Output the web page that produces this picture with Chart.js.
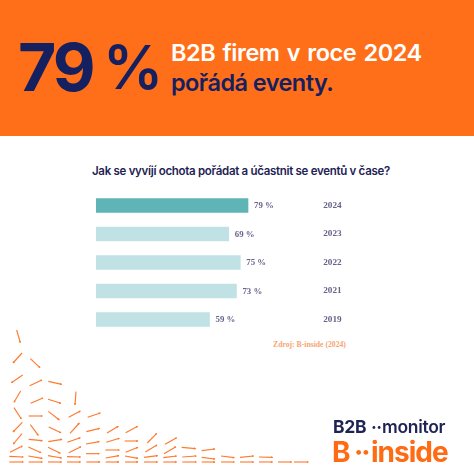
<!DOCTYPE html>
<html lang="cs"><head><meta charset="utf-8">
<style>
html,body{margin:0;padding:0;background:#fff;width:474px;height:474px;overflow:hidden}
#wrap{position:relative;width:474px;height:474px;overflow:hidden;font-family:Inter,sans-serif}
#banner{position:absolute;left:0;top:0;width:474px;height:136px;background:#FF6F1A}
canvas{position:absolute;left:0;top:0}
.t{position:absolute;white-space:pre;line-height:1}
svg{position:absolute;left:0;top:320px}
</style></head><body>
<div id="wrap">
<div id="banner"></div>
<div class="t" style="left:18px;top:34px;font-size:66px;font-weight:700;color:#14205F;letter-spacing:-3px">79</div>
<div class="t" style="left:103px;top:37px;font-size:60px;font-weight:600;color:#14205F;letter-spacing:-2px">%</div>
<div class="t" style="left:171px;top:41px;font-size:23.5px;font-weight:600;color:#fff;letter-spacing:-.45px;word-spacing:1.75px">B2B firem v roce 2024</div>
<div class="t" style="left:171px;top:71px;font-size:23.5px;font-weight:600;color:#14205F;letter-spacing:-.55px">pořádá eventy.</div>
<div class="t" style="left:92px;top:165.5px;font-size:11.5px;font-weight:600;color:#1E2354;letter-spacing:-.3px">Jak se vyvíjí ochota pořádat a účastnit se eventů v čase?</div>
<div class="t" style="left:273px;top:341px;font-family:'Liberation Serif',serif;font-size:7.7px;font-weight:700;color:#F7A470">Zdroj: B-inside (2024)</div>
<svg id="deco" width="320" height="154" viewBox="0 0 960 462">
<defs><marker id="head" markerUnits="userSpaceOnUse" markerWidth="7" markerHeight="7" refX="5.5" refY="3.5" orient="auto"><path d="M0 0L7 3.5L0 7z" fill="#FF7A2E"/></marker></defs>
</svg>
<canvas id="c" width="474" height="474"></canvas>
<div class="t" style="left:333px;top:418px;font-size:17.5px;font-weight:700;color:#1E2354;letter-spacing:-.3px">B2B</div>
<div class="t" style="left:371px;top:418.5px;font-size:17.5px;font-weight:700;color:#1E2354;letter-spacing:-.6px">··</div>
<div class="t" style="left:382px;top:418px;font-size:17.5px;font-weight:600;color:#1E2354;letter-spacing:-.3px">monitor</div>
<div class="t" style="left:332px;top:438px;font-size:28px;font-weight:700;color:#FF6A13">B</div>
<div class="t" style="left:354px;top:438px;font-size:28px;font-weight:700;color:#FF6A13;letter-spacing:-2px">··</div>
<div class="t" style="left:371px;top:438px;font-size:28px;font-weight:700;color:#FF6A13;letter-spacing:-1px">inside</div>
</div>
<script src="https://cdn.jsdelivr.net/npm/chart.js@4"></script>
<script>
const years = ['2024','2023','2022','2021','2019'];
const shares = [79,69,75,73,59];
const barColors = ['#5FB4B5','#C1E2E4','#C1E2E4','#C1E2E4','#C1E2E4'];

// decorative pattern, not data
const decoSegments = [
[50,30,61,68],[66,99,39,129],[91,116,120,143],[68,165,34,188],[89,197,126,180],[145,184,185,193],
[62,213,42,247],[92,250,129,234],[144,238,183,250],[228,215,225,255],[42,263,64,297],[86,288,127,288],
[145,274,178,300],[206,292,241,273],[263,292,301,279],[67,307,39,336],[91,314,115,346],[146,321,183,338],
[210,340,238,309],[259,335,299,325],[321,339,355,319],[377,338,413,319],[66,341,40,372],[86,358,127,362],
[145,365,186,358],[202,367,241,353],[258,372,298,365],[319,367,358,355],[374,363,414,363],[442,369,470,340],
[495,373,530,353],[30,397,67,378],[85,381,123,398],[144,382,181,400],[206,398,243,380],[258,401,298,401],
[316,390,358,390],[377,397,414,382],[436,396,471,375],[492,401,528,380],[545,382,587,386],[605,392,645,387],
[28,409,70,411],[85,408,127,415],[144,407,185,414],[201,410,242,411],[317,414,357,407],[375,408,414,415],
[432,412,473,407],[490,413,530,408],[547,411,589,408],[605,412,645,417],[663,408,703,413],[720,412,761,408],[777,411,818,412],
[28,426,70,426],[86,426,127,426],[144,426,185,426],[201,426,242,426],[259,426,300,426],[317,426,357,426],[375,426,414,426],
[432,426,473,426],[490,426,530,426],[547,426,589,426],[605,426,645,426],[663,426,703,426],[720,426,761,426],[777,426,818,426],
[834,426,875,426],[882,426,925,426]];
const NS='http://www.w3.org/2000/svg';
const deco=document.getElementById('deco');
for(const [x1,y1,x2,y2] of decoSegments){
  const l=document.createElementNS(NS,'line');
  l.setAttribute('x1',x1);l.setAttribute('y1',y1);l.setAttribute('x2',x2);l.setAttribute('y2',y2);
  l.setAttribute('stroke','#FF7A2E');l.setAttribute('stroke-width','3.4');
  l.setAttribute('marker-end','url(#head)');
  deco.appendChild(l);
}

const valueLabels={id:'valueLabels',afterDatasetsDraw(chart){
  const {ctx}=chart;const meta=chart.getDatasetMeta(0);
  ctx.save();ctx.font="700 8.8px 'Liberation Serif',serif";ctx.fillStyle='#66648A';
  ctx.textAlign='left';ctx.textBaseline='middle';
  meta.data.forEach((b,i)=>ctx.fillText(shares[i]+' %',b.x+6,b.y+0.5));
  ctx.restore();
}};

new Chart(document.getElementById('c'),{
  type:'bar',
  data:{labels:years,datasets:[{data:shares,backgroundColor:barColors,barThickness:14,borderWidth:0}]},
  plugins:[valueLabels],
  options:{
    indexAxis:'y',responsive:false,animation:false,devicePixelRatio:1,
    layout:{padding:{left:96,top:191.25,bottom:140.25,right:0}},
    plugins:{legend:{display:false},tooltip:{enabled:false},title:{display:false}},
    scales:{
      x:{display:false,min:0,max:116},
      y:{position:'right',grid:{display:false,drawTicks:false},border:{display:false},
         afterFit(s){s.width=154.8;},
         ticks:{padding:4,color:'#66648A',font:{family:"'Liberation Serif',serif",size:9.2,weight:'700'}}}
    }
  }
});
</script>
</body></html>
